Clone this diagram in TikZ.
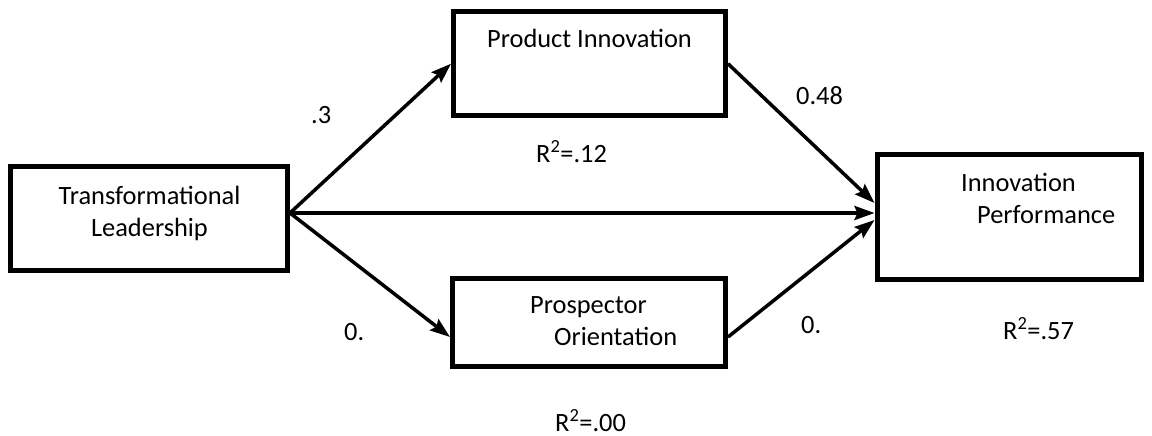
\documentclass[tikz,border=0pt]{standalone}
\usepackage{fontspec}
\setmainfont{Carlito}
\usetikzlibrary{arrows.meta}

\begin{document}
\begin{tikzpicture}[
  x=1pt, y=-1pt,
  font=\fontsize{26.4}{31.5}\selectfont,
  >={Stealth[length=20pt, width=14pt, inset=3pt]},
  box/.style={draw=black, line width=5pt, minimum width=272pt, minimum height=104pt, inner sep=0pt},
  txt/.style={align=center, inner sep=0pt},
  flow/.style={->, line width=3.5pt, draw=black},
  lbl/.style={inner sep=0pt, anchor=base west}
]
\useasboundingbox (0,0) rectangle (1152,436);

\node[box, minimum width=277pt] (tl) at (149,218) {};
\node[box] (pi) at (589.5,63.75) {};
\node[box, minimum width=273pt, minimum height=88pt] (po) at (589,322) {};
\node[box, minimum width=264pt, minimum height=125pt] (ip) at (1009,217) {};

\node[txt, anchor=base] (tl-t) at (149.5,236) {Transformational\\Leadership};
\node[txt, anchor=base] (pi-t) at (589.5,48) {Product Innovation};
\node[txt, align=left, anchor=base west] (po-t) at (530,345) {Prospector\\\hspace*{24pt}Orientation};
\node[txt, align=left, anchor=base west] (ip-t) at (961,223) {Innovation\\\hspace*{16pt}Performance};

\coordinate (tl-out) at ([yshift=5pt]tl.east);
\coordinate (po-in)  at ([yshift=-15pt]po.west);
\coordinate (po-out) at ([yshift=-15pt]po.east);
\coordinate (ip-top) at ([yshift=14pt]ip.west);
\coordinate (ip-mid) at ([yshift=4pt]ip.west);
\coordinate (ip-low) at ([yshift=-3pt]ip.west);

\draw[flow] (tl-out) -- (pi.west);
\draw[flow] (tl-out) -- (po-in);
\draw[flow] (tl-out) -- (ip-mid);
\draw[flow] (pi.east) -- (ip-top);
\draw[flow] (po-out) -- (ip-low);

\node[lbl] (b-tl-pi) at (311,124) {.3};
\node[lbl] (b-pi-ip) at (796,104) {0.48};
\node[lbl] (r-pi)    at (536,162) {R\textsuperscript{2}=.12};
\node[lbl] (b-tl-po) at (344,340) {0.};
\node[lbl] (b-po-ip) at (801,333) {0.};
\node[lbl] (r-ip)    at (1003,339) {R\textsuperscript{2}=.57};
\node[lbl] (r-po)    at (555,431) {R\textsuperscript{2}=.00};
\end{tikzpicture}
\end{document}
